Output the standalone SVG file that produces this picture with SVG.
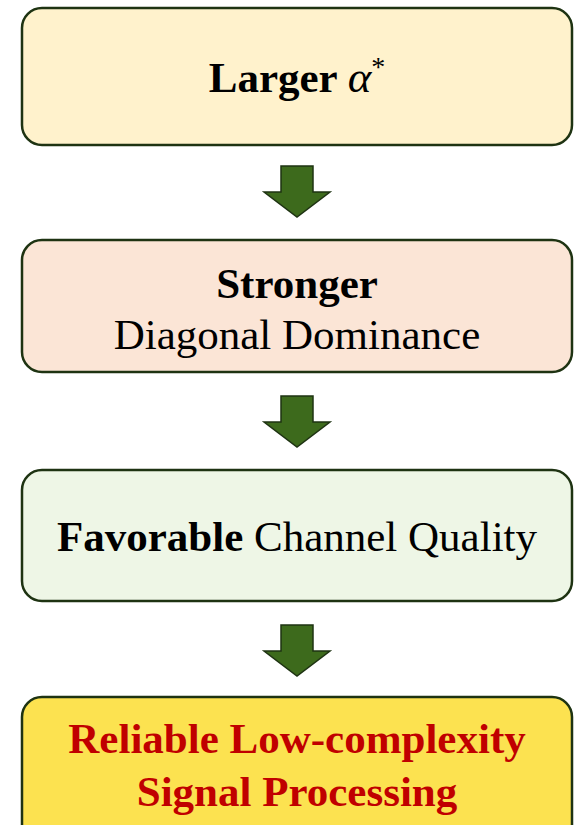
<svg xmlns="http://www.w3.org/2000/svg" width="576" height="825" viewBox="0 0 576 825">
  <style>
    .box { stroke: #1e3312; stroke-width: 2.5; }
    .arrow { fill: #3d6a1c; stroke: #1e3312; stroke-width: 1.5; stroke-linejoin: miter; }
    text { font-family: "Liberation Serif", "Times New Roman", serif; font-size: 43px; text-anchor: middle; fill: #000; }
    .b { font-weight: bold; }
    .red { fill: #c00000; font-weight: bold; }
  </style>
  <defs>
    <path id="down" class="arrow" d="M -16 0 H 16 V 26 H 33 L 0 51 L -33 26 H -16 Z"/>
  </defs>

  <g id="node-larger-alpha">
    <rect class="box" x="22" y="8" width="550" height="137" rx="20" fill="#fff2cc"/>
    <text x="297" y="92"><tspan class="b">Larger </tspan><tspan font-style="italic" font-size="45">α</tspan><tspan font-size="28" dy="-16">*</tspan></text>
  </g>

  <g id="node-diagonal-dominance">
    <rect class="box" x="22" y="240" width="550" height="132" rx="20" fill="#fbe5d6"/>
    <text x="297" y="298" class="b">Stronger</text>
    <text x="297" y="349">Diagonal Dominance</text>
  </g>

  <g id="node-channel-quality">
    <rect class="box" x="22" y="470" width="550" height="131" rx="20" fill="#eef6e6"/>
    <text x="297" y="551"><tspan class="b">Favorable</tspan> Channel Quality</text>
  </g>

  <g id="node-signal-processing">
    <rect class="box" x="22" y="697" width="550" height="150" rx="20" fill="#fce250"/>
    <text x="297" y="753" class="red">Reliable Low-complexity</text>
    <text x="297" y="806" class="red">Signal Processing</text>
  </g>

  <g id="connectors">
    <use href="#down" x="297" y="166"/>
    <use href="#down" x="297" y="396"/>
    <use href="#down" x="297" y="625"/>
  </g>
</svg>
